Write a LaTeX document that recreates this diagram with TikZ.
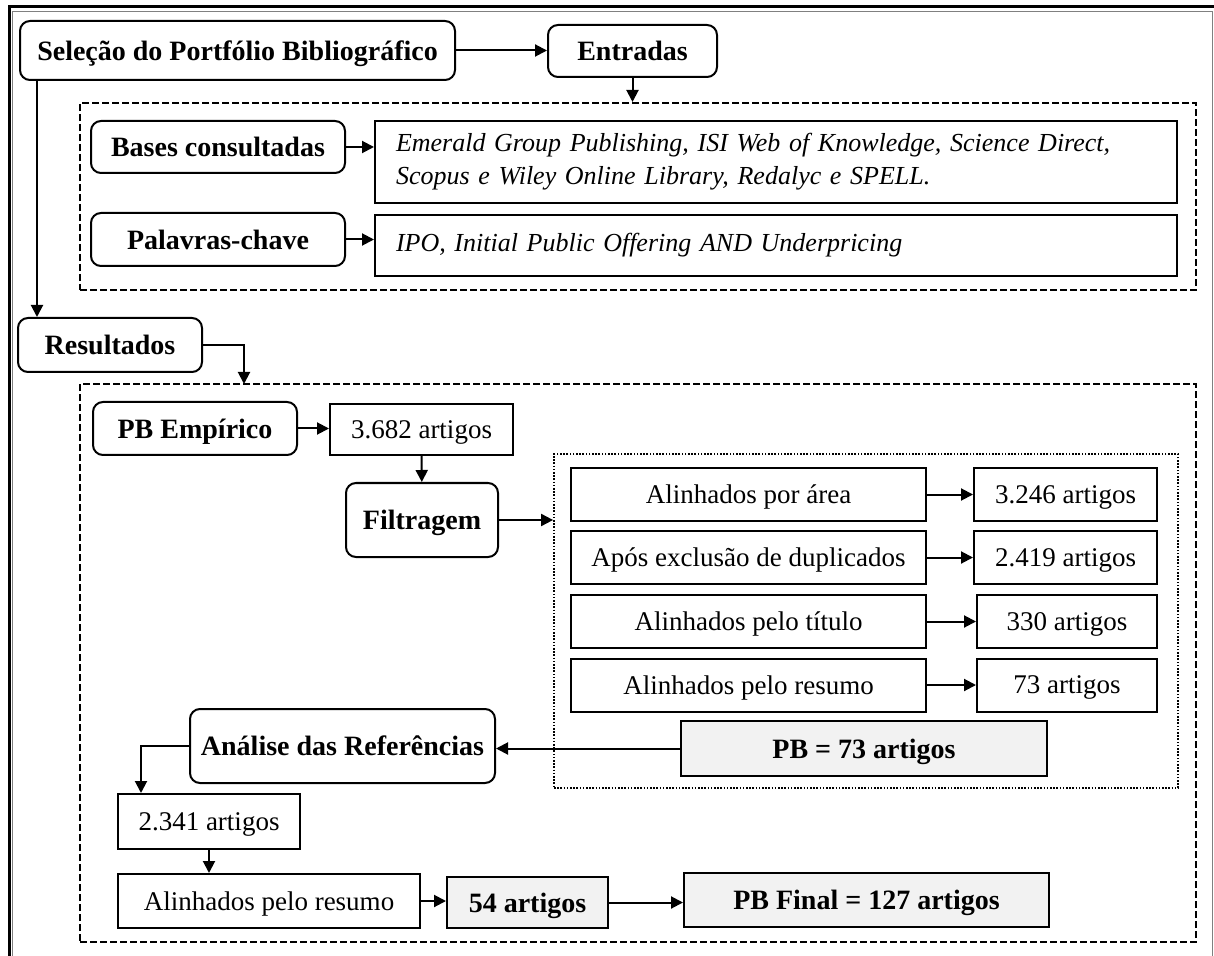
\documentclass[tikz,border=0pt]{standalone}
\usepackage{fontspec}
\setmainfont{Liberation Serif}
\usepackage{tikz}
\usetikzlibrary{arrows.meta,positioning}
\definecolor{boxgrey}{HTML}{F2F2F2}
\newcommand{\boxfont}{\fontsize{13.5}{16.5}\selectfont}
\newcommand{\boldfont}{\fontsize{14}{16.5}\selectfont\bfseries}
\tikzset{
  rbox/.style={draw,line width=1pt,rounded corners=5pt,font=\boldfont,align=center,inner sep=2pt,text depth=0pt},
  pbox/.style={draw,line width=1pt,font=\boxfont,align=center,inner sep=2pt,text depth=0pt},
  gbox/.style={pbox,fill=boxgrey,font=\boldfont},
  tbox/.style={draw,line width=1pt,font=\fontsize{13}{16.5}\selectfont\itshape,align=left,inner xsep=10.5pt,text width=380pt},
  dbox/.style={draw,line width=1pt,dash pattern=on 3.5pt off 1.5pt},
  obox/.style={draw,line width=0.9pt,dash pattern=on 0.8pt off 0.8pt},
  varr/.style={-{Triangle[length=6pt,width=6pt]},line width=1pt},
  vline/.style={line width=1pt}
}

\begin{document}
\begin{tikzpicture}[x=0.5pt,y=-0.5pt,font=\boxfont]
  \useasboundingbox (0,0) rectangle (1214,956);
  % frame of the figure
  \draw[line width=1.5pt] (9,960) -- (9,7) -- (1214,7);
  \draw[line width=0.4pt,draw=gray] (12,960) -- (12,11) -- (1212,11) -- (1212,960);
  % inputs
  \node[rbox,minimum width=217.5pt,minimum height=29.5pt] (sel) at (237.5,50.5) {Seleção do Portfólio Bibliográfico};
  \node[rbox,minimum width=84.5pt,minimum height=26pt] (ent) at (632.5,51) {Entradas};
  \node[dbox,minimum width=558pt,minimum height=93.5pt] (inp) at (638,196.5) {};
  \node[rbox,minimum width=127pt,minimum height=26pt] (bas) at (218,147) {Bases consultadas};
  \node[tbox,minimum height=41pt] (basl) at (776,162) {Emerald Group Publishing, ISI Web of Knowledge, Science Direct,\\ Scopus e Wiley Online Library, Redalyc e SPELL.};
  \node[rbox,minimum width=127pt,minimum height=26.5pt] (pal) at (218,239.5) {Palavras-chave};
  \node[tbox,minimum height=30.5pt] (pall) at (776,245.5) {IPO, Initial Public Offering AND Underpricing};
  % results
  \node[rbox,minimum width=92pt,minimum height=27pt] (res) at (110,345) {Resultados};
  \coordinate (rdown) at (244,384);
  \node[dbox,minimum width=558pt,minimum height=279pt] (outp) at (638,663) {};
  \node[rbox,minimum width=102pt,minimum height=26.5pt] (emp) at (195,428.5) {PB Empírico};
  \node[pbox,minimum width=91.5pt,minimum height=25.5pt] (n3682) at (421.5,429.5) {3.682 artigos};
  \node[rbox,minimum width=76pt,minimum height=37pt] (fil) at (422,520) {Filtragem};
  \node[obox,minimum width=312pt,minimum height=167pt] (filt) at (866,621) {};
  \node[pbox,minimum width=177.5pt,minimum height=26.5pt] (area) at (748.5,494.5) {Alinhados por área};
  \node[pbox,minimum width=91.5pt,minimum height=26.5pt] (n3246) at (1065.5,494.5) {3.246 artigos};
  \node[pbox,minimum width=177.5pt,minimum height=26.5pt] (dupl) at (748.5,557.5) {Após exclusão de duplicados};
  \node[pbox,minimum width=91.5pt,minimum height=26.5pt] (n2419) at (1065.5,557.5) {2.419 artigos};
  \node[pbox,minimum width=177.5pt,minimum height=26.5pt] (tit) at (748.5,621.5) {Alinhados pelo título};
  \node[pbox,minimum width=90pt,minimum height=26.5pt] (n330) at (1067,621.5) {330 artigos};
  \node[pbox,minimum width=177.5pt,minimum height=26.5pt] (resu) at (748.5,685) {Alinhados pelo resumo};
  \node[pbox,minimum width=90pt,minimum height=26.5pt] (n73) at (1067,685) {73 artigos};
  \node[gbox,minimum width=183pt,minimum height=27.5pt] (pb73) at (864,748.5) {PB = 73 artigos};
  \node[rbox,minimum width=152.5pt,minimum height=37pt] (ana) at (342.5,746) {Análise das Referências};
  \node[pbox,minimum width=91pt,minimum height=27.5pt] (n2341) at (209,821.5) {2.341 artigos};
  \node[pbox,minimum width=151pt,minimum height=27pt] (resumo) at (269,901) {Alinhados pelo resumo};
  \node[gbox,minimum width=80.5pt,minimum height=25.5pt] (n54) at (527.5,902.5) {54 artigos};
  \node[gbox,minimum width=182.5pt,minimum height=27pt] (pbf) at (866.5,900) {PB Final = 127 artigos};
  % connectors
  \draw[varr] (sel.east) -- (sel.east -| ent.west);
  \draw[varr] (ent.south) -- (ent.south |- inp.north);
  \draw[varr] (bas.east) -- (bas.east -| basl.west);
  \draw[varr] (pal.east) -- (pal.east -| pall.west);
  \draw[varr] ([xshift=10pt]res.north west |- sel.south) -- ([xshift=10pt]res.north west);
  \draw[varr] (res.east) -| (rdown);
  \draw[varr] (emp.east) -- (emp.east -| n3682.west);
  \draw[varr] (n3682) -- (fil);
  \draw[varr] (fil.east) -- (fil.east -| filt.west);
  \draw[varr] (area) -- (n3246); \draw[varr] (dupl) -- (n2419);
  \draw[varr] (tit) -- (n330); \draw[varr] (resu) -- (n73);
  \draw[varr] (pb73.west) -- (pb73.west -| ana.east);
  \draw[varr] (ana.west) -| ([xshift=12pt]n2341.north west);
  \draw[varr] (n2341.south) -- (n2341.south |- resumo.north);
  \draw[varr] (resumo.east) -- (resumo.east -| n54.west);
  \draw[varr] (n54.east) -- (n54.east -| pbf.west);
\end{tikzpicture}
\end{document}
